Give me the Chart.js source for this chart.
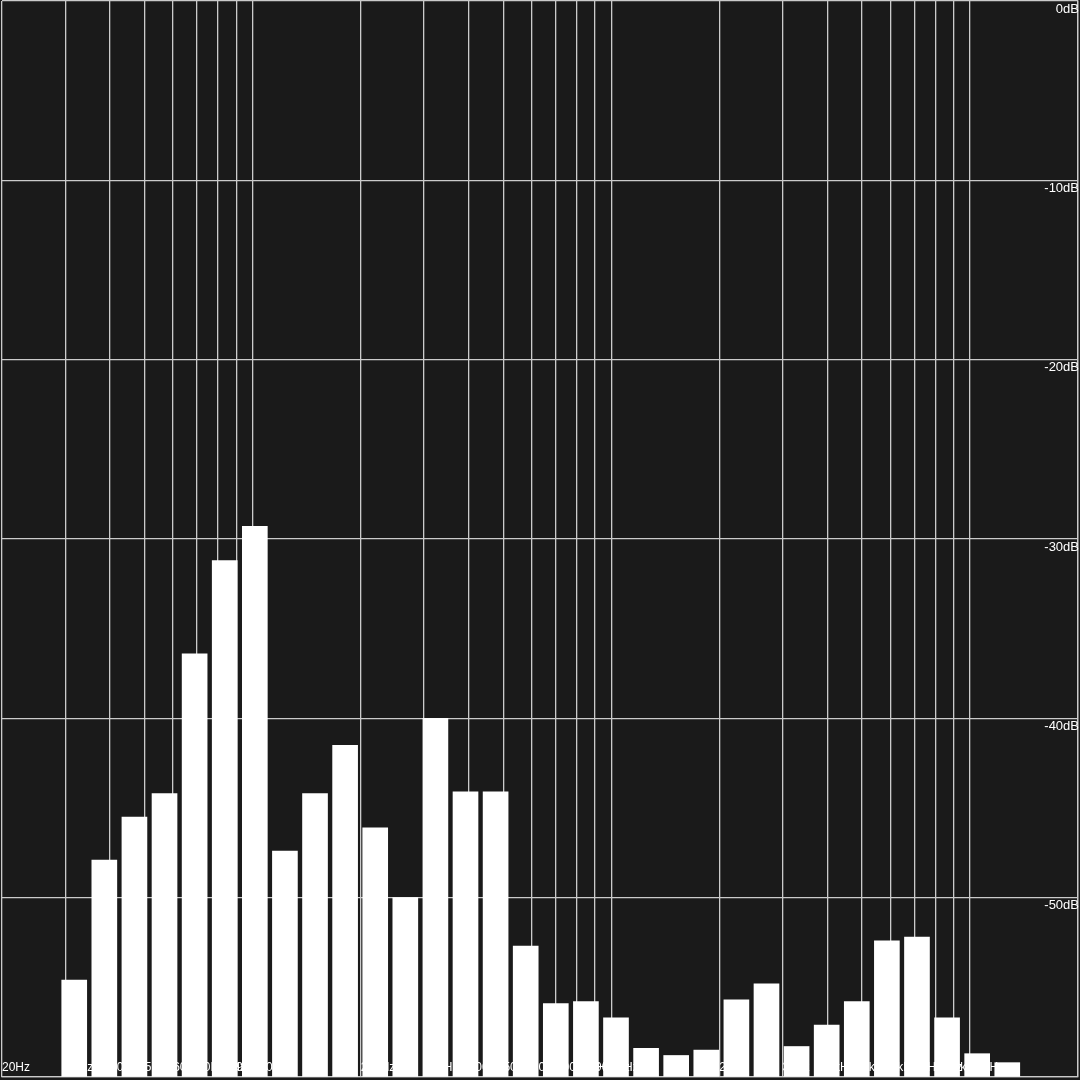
<!DOCTYPE html>
<html>
<head>
<meta charset="utf-8">
<title>Spectrum</title>
<script src="https://cdn.jsdelivr.net/npm/chart.js@4.4.1/dist/chart.umd.min.js"></script>
<style>
  html, body { margin: 0; padding: 0; background: #1a1a1a; }
  canvas { display: block; }
</style>
</head>
<body>
<canvas id="spectrum" width="1080" height="1080"></canvas>
<script>
// band number of each bar, left to right
const bands = [1, 2, 3, 4, 5, 6, 7, 8, 9, 10, 11, 12, 13, 14, 15, 16,
               17, 18, 19, 20, 21, 22, 23, 24, 25, 26, 27, 28, 29, 30, 31, 32];
// level of each band in dB
const levels = [-54.6, -47.9, -45.5, -44.2, -36.4, -31.2, -29.3, -47.4,
                -44.2, -41.5, -46.1, -50.0, -40.0, -44.1, -44.1, -52.7,
                -55.9, -55.8, -56.7, -58.4, -58.8, -58.5, -55.7, -54.8,
                -58.3, -57.1, -55.8, -52.4, -52.2, -56.7, -58.7, -59.2];
// frequency grid
const freqTicks = [20, 30, 40, 50, 60, 70, 80, 90, 100,
                   200, 300, 400, 500, 600, 700, 800, 900, 1000,
                   2000, 3000, 4000, 5000, 6000, 7000, 8000, 9000, 10000, 20000];
const freqLabels = ['20Hz', '30Hz', '40Hz', '50Hz', '60Hz', '70Hz', '80Hz', '90Hz', '100Hz',
                    '200Hz', '300Hz', '400Hz', '500Hz', '600Hz', '700Hz', '800Hz', '900Hz', '1kHz',
                    '2kHz', '3kHz', '4kHz', '5kHz', '6kHz', '7kHz', '8kHz', '9kHz', '10kHz', ''];
const dbTicks = [0, -10, -20, -30, -40, -50, -60];
const dbLabels = ['0dB', '-10dB', '-20dB', '-30dB', '-40dB', '-50dB', ''];

const gridColor = '#cbcbcb';

const bg = {
    id: 'bg',
    beforeDraw(chart) {
        const c = chart.ctx;
        c.save();
        c.fillStyle = '#1a1a1a';
        c.fillRect(0, 0, chart.width, chart.height);
        c.restore();
    }
};

// scales sit on top of the plot, take no room
const noRoom = (scale) => {
    scale.paddingLeft = 0; scale.paddingRight = 0;
    scale.paddingTop = 0; scale.paddingBottom = 0;
    if (scale.isHorizontal()) scale.height = 0; else scale.width = 0;
};

new Chart(document.getElementById('spectrum'), {
    type: 'bar',
    data: {
        datasets: [{
            data: bands.map((b, i) => ({ x: b, y: levels[i] })),
            backgroundColor: '#ffffff',
            borderWidth: 0,
            barThickness: 25,
            base: -60,
            xAxisID: 'x',
            yAxisID: 'y'
        }]
    },
    options: {
        responsive: false,
        devicePixelRatio: 1,
        animation: false,
        layout: { padding: { left: 2, right: 2, top: 1, bottom: 3 } },
        plugins: { legend: { display: false }, tooltip: { enabled: false } },
        scales: {
            x: {
                type: 'linear',
                min: -1.40,
                max: 34.35,
                offset: false,
                grid: { offset: false },
                display: false
            },
            freq: {
                type: 'logarithmic',
                position: 'bottom',
                min: 20,
                max: 20000,
                offset: false,
                afterBuildTicks: (s) => { s.ticks = freqTicks.map(v => ({ value: v })); },
                afterFit: noRoom,
                grid: { offset: false, color: gridColor, lineWidth: 1.3, drawTicks: false },
                border: { color: gridColor, width: 1.3 },
                ticks: {
                    mirror: true,
                    align: 'start',
                    padding: 2,
                    autoSkip: false,
                    maxRotation: 0,
                    minRotation: 0,
                    color: '#ffffff',
                    font: { family: 'Liberation Sans', size: 12 },
                    callback: (v) => freqLabels[freqTicks.indexOf(v)] ?? ''
                }
            },
            y: {
                type: 'linear',
                position: 'right',
                min: -60,
                max: 0,
                afterBuildTicks: (s) => { s.ticks = dbTicks.map(v => ({ value: v })); },
                afterFit: noRoom,
                grid: { color: gridColor, lineWidth: 1.3, drawTicks: false },
                border: { color: gridColor, width: 1.3 },
                ticks: {
                    mirror: true,
                    padding: 1,
                    labelOffset: 8,
                    color: '#ffffff',
                    font: { family: 'Liberation Sans', size: 13 },
                    callback: (v) => dbLabels[dbTicks.indexOf(v)] ?? ''
                }
            }
        }
    },
    plugins: [bg]
});
</script>
</body>
</html>
